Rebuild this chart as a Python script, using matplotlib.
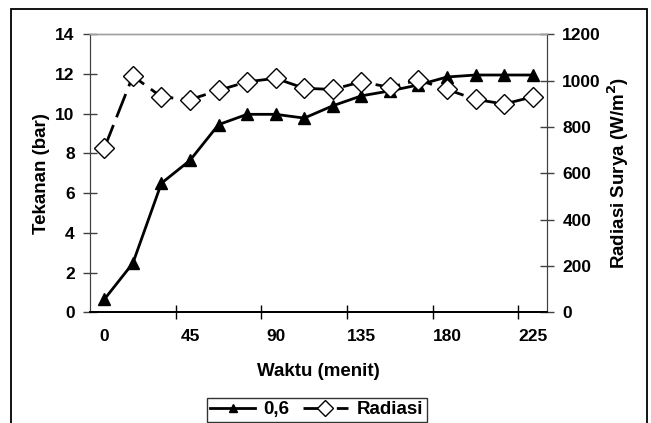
import matplotlib.pyplot as plt
from matplotlib.patches import Rectangle

plt.rcParams["font.family"] = ["Liberation Sans", "DejaVu Sans"]
plt.rcParams["font.weight"] = "bold"

# time in minutes, one reading every 15 minutes
waktu = [0, 15, 30, 45, 60, 75, 90, 105, 120, 135, 150, 165, 180, 195, 210, 225]
tekanan = [0.65, 2.47, 6.5, 7.65, 9.45, 9.97, 9.97, 9.78, 10.4, 10.9, 11.15,
           11.45, 11.85, 11.95, 11.95, 11.95]
radiasi = [708, 1020, 930, 918, 958, 995, 1010, 967, 962, 995, 971, 1003,
           962, 919, 899, 930]
x_labels = [0, 45, 90, 135, 180, 225]
y_left_ticks = [0, 2, 4, 6, 8, 10, 12, 14]
y_right_ticks = [0, 200, 400, 600, 800, 1000, 1200]

TICK_FS = 12.5
LABEL_FS = 13.5

W, H = 651, 423
fig = plt.figure(figsize=(W / 100, H / 100), dpi=100)
ax = fig.add_axes([90 / W, 1 - 312.3 / H, 457 / W, 278 / H])
ax2 = ax.twinx()

(l1,) = ax.plot(waktu, tekanan, color="black", lw=2, marker="^", ms=8.5,
                mfc="black", mec="black", label="0,6", zorder=3)
(l2,) = ax2.plot(waktu, radiasi, color="black", lw=2, dashes=(9, 3),
                 marker="D", ms=10.5, mfc="white", mec="black", mew=1.0,
                 label="Radiasi", zorder=3)

ax.set_xlim(-7.5, 232.5)
ax.set_ylim(0, 14)
ax2.set_ylim(0, 1200)

# category-style axis: tick marks between groups, labels on the points
ax.set_xticks([-7.5 + 45 * k for k in range(1, 6)])
ax.set_xticklabels([])
ax.set_xticks(x_labels, minor=True)
ax.set_xticklabels([str(v) for v in x_labels], minor=True)
ax.tick_params(axis="x", which="major", direction="inout", length=10,
               width=1, color="black")
ax.tick_params(axis="x", which="minor", length=0, pad=12,
               labelsize=TICK_FS)

ax.set_yticks(y_left_ticks)
ax.tick_params(axis="y", direction="inout", length=10, width=1,
               color="#404040", labelsize=TICK_FS, pad=6)
ax2.set_yticks(y_right_ticks)
ax2.tick_params(axis="y", direction="inout", length=10, width=1,
                color="#404040", labelsize=TICK_FS, pad=6)

for a in (ax, ax2):
    a.spines["top"].set_color("#a0a0a0")
    a.spines["top"].set_linewidth(1)
    a.spines["left"].set_color("#404040")
    a.spines["right"].set_color("#404040")
    a.spines["bottom"].set_color("black")
    a.spines["bottom"].set_linewidth(1.3)
    a.patch.set_visible(False)

ax.set_xlabel("Waktu (menit)", fontsize=LABEL_FS, fontweight="bold",
              labelpad=14)
ax.set_ylabel("Tekanan (bar)", fontsize=LABEL_FS, fontweight="bold",
              labelpad=4)
ax2.set_ylabel("Radiasi Surya (W/m$^\\mathbf{2}$)", fontsize=LABEL_FS,
               fontweight="bold", labelpad=3)

fig.legend(handles=[l1, l2], loc="upper left", ncol=2,
           bbox_to_anchor=(206.5 / W, 1 - 397.5 / H), fontsize=LABEL_FS,
           frameon=True, fancybox=False, edgecolor="black",
           handlelength=2.4, columnspacing=0.7, handletextpad=0.45,
           borderpad=0.2, borderaxespad=0, markerscale=0.75)

fig.patches.append(Rectangle((11 / W, -0.1), 636 / W, (H - 9) / H + 0.1,
                             transform=fig.transFigure, fill=False,
                             edgecolor="black", lw=1.3))

fig.savefig("out.png", dpi=100)
